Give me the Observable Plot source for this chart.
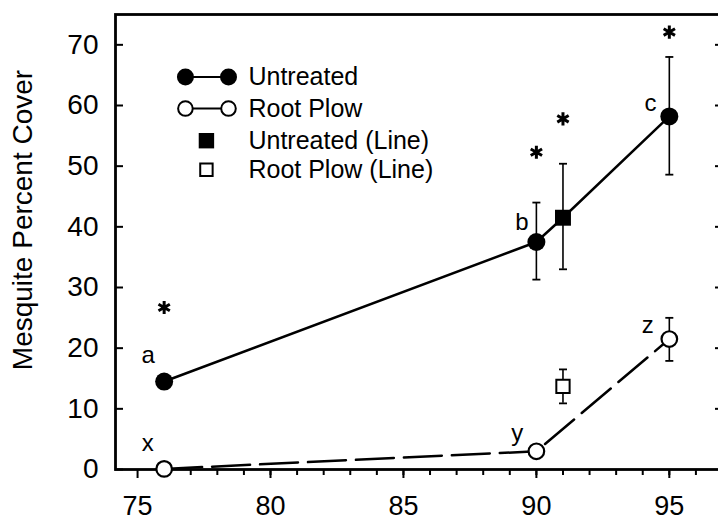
<!DOCTYPE html>
<html><head><meta charset="utf-8">
<script src="https://cdn.jsdelivr.net/npm/d3@7"></script>
<script src="https://cdn.jsdelivr.net/npm/@observablehq/plot@0.6"></script>
<style>
html,body{margin:0;padding:0;overflow:hidden;background:#fff}
svg{max-width:none !important;}
</style>
</head><body><div id="chart"></div>
<script>
// ---- data ----
const years = [76, 90, 95];
const untreated = [14.5, 37.5, 58.2];
const untreatedLo = [null, 31.3, 48.6];
const untreatedHi = [null, 44.0, 68.0];
const rootPlow = [0.1, 3.0, 21.5];
const rootPlowLo = [null, null, 17.9];
const rootPlowHi = [null, null, 25.0];
const lineYears = [91];
const untreatedLine = [41.5];
const untreatedLineLo = [33.0];
const untreatedLineHi = [50.4];
const rootPlowLine = [13.7];
const rootPlowLineLo = [10.9];
const rootPlowLineHi = [16.5];
const letterText = ["a", "b", "c", "x", "y", "z"];
const letterX = [75.4, 89.46, 94.29, 75.38, 89.28, 94.19];
const letterY = [18.8, 40.8, 60.3, 4.3, 6.0, 23.7];
const starX = [76, 90, 91, 95];
const starY = [26.7, 52.3, 57.8, 72.1];
const xMajorTicks = [75, 80, 85, 90, 95];
const xMinorTicks = d3.range(76, 97);
const yTicks = [0, 10, 20, 30, 40, 50, 60, 70];
const legendLabels = ["Untreated", "Root Plow", "Untreated (Line)", "Root Plow (Line)"];

// ---- tables ----
const mainU = years.map((x, i) => ({x, y: untreated[i], lo: untreatedLo[i], hi: untreatedHi[i]}));
const mainR = years.map((x, i) => ({x, y: rootPlow[i], lo: rootPlowLo[i], hi: rootPlowHi[i]}));
const lineU = lineYears.map((x, i) => ({x, y: untreatedLine[i], lo: untreatedLineLo[i], hi: untreatedLineHi[i]}));
const lineR = lineYears.map((x, i) => ({x, y: rootPlowLine[i], lo: rootPlowLineLo[i], hi: rootPlowLineHi[i]}));
const solidPath = [...mainU, ...lineU].sort((a, b) => a.x - b.x);
const errs = [...mainU, ...mainR, ...lineU, ...lineR].filter(d => d.lo != null);
const letters = letterText.map((t, i) => ({t, x: letterX[i], y: letterY[i]}));
const stars = starX.map((x, i) => ({x, y: starY[i]}));

// legend layout (data units)
const legX1 = 76.8, legX2 = 78.42, legXs = 77.59, legXt = 79.17;
const legRows = [64.7, 59.5, 54.2, 49.4];
const legend = legendLabels.map((t, i) => ({t, y: legRows[i]}));

const capSymbol = {draw(ctx, size) { const w = Math.sqrt(size / Math.PI); ctx.moveTo(-w, 0); ctx.lineTo(w, 0); }};
const noText = () => "";

const chart = Plot.plot({
  width: 726, height: 521,
  marginLeft: 115, marginRight: 4, marginTop: 14, marginBottom: 52,
  style: {fontFamily: "'Liberation Sans', Arial, Helvetica, sans-serif", fontSize: "24px", color: "black", background: "white"},
  x: {domain: [74.17, 97]},
  y: {domain: [0, 75]},
  marks: [
    Plot.axisX({ticks: xMinorTicks, tickSize: 6, tickFormat: noText, strokeWidth: 2, label: null}),
    Plot.axisX({ticks: xMajorTicks, tickSize: 9, tickPadding: 17, fontSize: 27, strokeWidth: 2, label: null}),
    Plot.axisY({anchor: "left", ticks: yTicks, tickSize: 0, tickPadding: 17, fontSize: 28, label: null}),
    Plot.axisY({anchor: "left", ticks: yTicks, tickSize: -8, tickFormat: noText, strokeWidth: 2, label: null}),
    Plot.axisY({anchor: "right", ticks: yTicks.slice(1), tickSize: -8, tickFormat: noText, strokeWidth: 2, label: null}),
    Plot.frame({strokeWidth: 2.8}),
    Plot.text(["Mesquite Percent Cover"], {frameAnchor: "left", rotate: -90, dx: -92, dy: -22, fontSize: 28, textAnchor: "middle", lineAnchor: "middle"}),
    // lines
    Plot.line(solidPath, {x: "x", y: "y", stroke: "black", strokeWidth: 2.5}),
    Plot.line(mainR, {x: "x", y: "y", stroke: "black", strokeWidth: 2.5, strokeDasharray: "38,10"}),
    // error bars
    Plot.ruleX(errs, {x: "x", y1: "lo", y2: "hi", stroke: "black", strokeWidth: 1.6}),
    Plot.dot(errs, {x: "x", y: "lo", symbol: capSymbol, r: 4, stroke: "black", strokeWidth: 1.8}),
    Plot.dot(errs, {x: "x", y: "hi", symbol: capSymbol, r: 4, stroke: "black", strokeWidth: 1.8}),
    // points
    Plot.dot(mainU, {x: "x", y: "y", r: 9, fill: "black", stroke: "none"}),
    Plot.dot(mainR, {x: "x", y: "y", r: 7.8, fill: "white", stroke: "black", strokeWidth: 2.2}),
    Plot.dot(lineU, {x: "x", y: "y", symbol: "square", r: 9, fill: "black", stroke: "none"}),
    Plot.dot(lineR, {x: "x", y: "y", symbol: "square", r: 7.5, fill: "white", stroke: "black", strokeWidth: 2}),
    // annotations
    Plot.text(letters, {x: "x", y: "y", text: "t", fontSize: 24, textAnchor: "middle", lineAnchor: "middle"}),
    Plot.dot(stars, {x: "x", y: "y", symbol: "asterisk", r: 6.2, stroke: "black", strokeWidth: 3}),
    // legend
    Plot.link(legend.slice(0, 2), {x1: legX1, x2: legX2, y1: "y", y2: "y", stroke: "black", strokeWidth: 2}),
    Plot.dot(legend.slice(0, 1), {x: legX1, y: "y", r: 8.5, fill: "black"}),
    Plot.dot(legend.slice(0, 1), {x: legX2, y: "y", r: 8.5, fill: "black"}),
    Plot.dot(legend.slice(1, 2), {x: legX1, y: "y", r: 7.3, fill: "white", stroke: "black", strokeWidth: 2}),
    Plot.dot(legend.slice(1, 2), {x: legX2, y: "y", r: 7.3, fill: "white", stroke: "black", strokeWidth: 2}),
    Plot.dot(legend.slice(2, 3), {x: legXs, y: "y", symbol: "square", r: 8.7, fill: "black"}),
    Plot.dot(legend.slice(3, 4), {x: legXs, y: "y", symbol: "square", r: 7, fill: "white", stroke: "black", strokeWidth: 2}),
    Plot.text(legend, {x: legXt, y: "y", text: "t", fontSize: 25, textAnchor: "start", lineAnchor: "middle"})
  ]
});
document.getElementById("chart").appendChild(chart);
</script>
</body></html>
